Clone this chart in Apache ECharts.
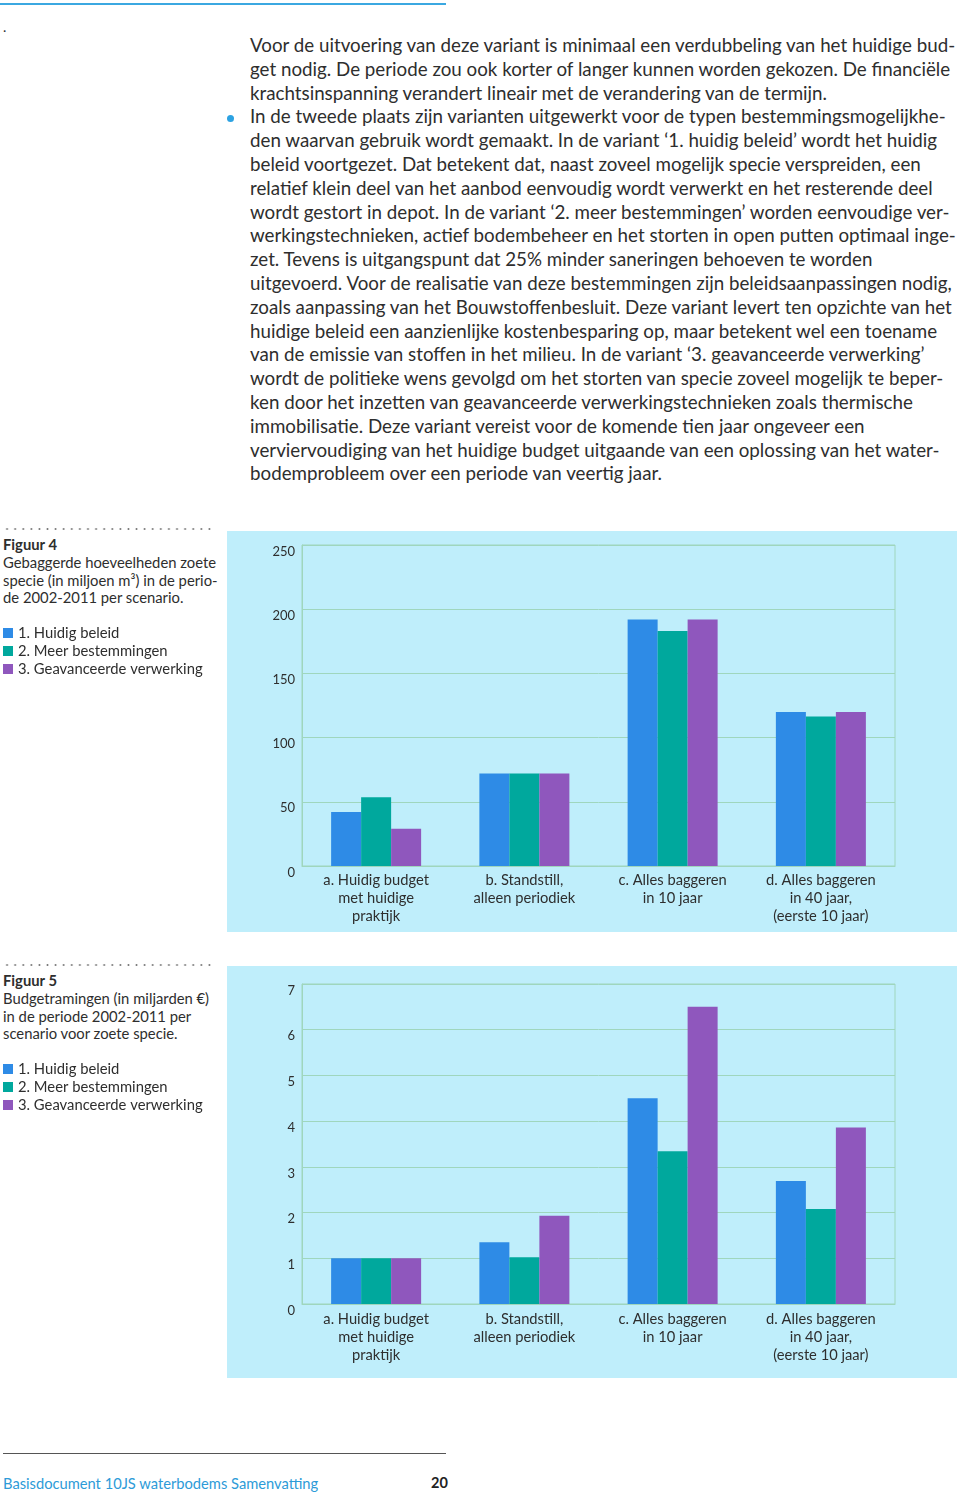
<!DOCTYPE html>
<html>
<head>
<meta charset="utf-8">
<script src="https://cdn.jsdelivr.net/npm/echarts@6/dist/echarts.min.js"></script>
<style>
  html, body { margin:0; padding:0; background:#fff; }
  body { width:960px; height:1493px; position:relative; overflow:hidden; font-family: Lato, "Open Sans", sans-serif; color:#2e2e2e; }
  .abs { position:absolute; }
  #para { left:250px; top:33px; line-height:23.8px; font-size:17px; }
  #para div { white-space:pre; }
  .cap { left:3px; font-size:14.8px; line-height:17.8px; }
  .dots { left:3px; width:212px; height:2px;
          background: radial-gradient(circle, #7a7a7a 0.9px, transparent 1.1px) 0 0 / 8.1px 2px repeat-x; }
  .box { left:227px; width:730px; background:#bfeefb; }
  .chart { left:0; width:960px; }
</style>
</head>
<body>
<div class="abs" style="left:0;top:3px;width:446px;height:2px;background:#3ba8e1;"></div>
<div class="abs" style="left:3px;top:18px;font-size:14px;">.</div>
<div class="abs" style="left:227px;top:115px;width:7px;height:7px;border-radius:4px;background:#2ca2e2;"></div>
<div id="para" class="abs"></div>

<div class="abs dots" style="top:528px;"></div>
<div class="abs cap" style="top:536px;"><b>Figuur 4</b><br>Gebaggerde hoeveelheden zoete<br>specie (in miljoen m³) in de perio-<br>de 2002-2011 per scenario.</div>
<div class="abs box" style="top:531px;height:401px;"></div>
<div id="fig4" class="abs chart" style="top:520px;height:420px;"></div>

<div class="abs dots" style="top:964px;"></div>
<div class="abs cap" style="top:972px;"><b>Figuur 5</b><br>Budgetramingen (in miljarden €)<br>in de periode 2002-2011 per<br>scenario voor zoete specie.</div>
<div class="abs box" style="top:966px;height:412px;"></div>
<div id="fig5" class="abs chart" style="top:955px;height:430px;"></div>

<div class="abs" style="left:3px;top:1453px;width:443px;height:1px;background:#555;"></div>
<div class="abs" style="left:3px;top:1474px;font-size:14.7px;color:#2d9bd8;">Basisdocument 10JS waterbodems Samenvatting</div>
<div class="abs" style="left:431px;top:1474px;font-size:14.5px;font-weight:bold;color:#222;">20</div>

<script>
// ---------- text ----------
const paragraphLines = [
  'Voor de uitvoering van deze variant is minimaal een verdubbeling van het huidige bud-',
  'get nodig. De periode zou ook korter of langer kunnen worden gekozen. De financiële',
  'krachtsinspanning verandert lineair met de verandering van de termijn.',
  'In de tweede plaats zijn varianten uitgewerkt voor de typen bestemmingsmogelijkhe-',
  'den waarvan gebruik wordt gemaakt. In de variant ‘1. huidig beleid’ wordt het huidig',
  'beleid voortgezet. Dat betekent dat, naast zoveel mogelijk specie verspreiden, een',
  'relatief klein deel van het aanbod eenvoudig wordt verwerkt en het resterende deel',
  'wordt gestort in depot. In de variant ‘2. meer bestemmingen’ worden eenvoudige ver-',
  'werkingstechnieken, actief bodembeheer en het storten in open putten optimaal inge-',
  'zet. Tevens is uitgangspunt dat 25% minder saneringen behoeven te worden',
  'uitgevoerd. Voor de realisatie van deze bestemmingen zijn beleidsaanpassingen nodig,',
  'zoals aanpassing van het Bouwstoffenbesluit. Deze variant levert ten opzichte van het',
  'huidige beleid een aanzienlijke kostenbesparing op, maar betekent wel een toename',
  'van de emissie van stoffen in het milieu. In de variant ‘3. geavanceerde verwerking’',
  'wordt de politieke wens gevolgd om het storten van specie zoveel mogelijk te beper-',
  'ken door het inzetten van geavanceerde verwerkingstechnieken zoals thermische',
  'immobilisatie. Deze variant vereist voor de komende tien jaar ongeveer een',
  'verviervoudiging van het huidige budget uitgaande van een oplossing van het water-',
  'bodemprobleem over een periode van veertig jaar.'
];

// ---------- data ----------
const categories = [
  'a. Huidig budget\nmet huidige\npraktijk',
  'b. Standstill,\nalleen periodiek',
  'c. Alles baggeren\nin 10 jaar',
  'd. Alles baggeren\nin 40 jaar,\n(eerste 10 jaar)'
];
const seriesNames = ['1. Huidig beleid', '2. Meer bestemmingen', '3. Geavanceerde verwerking'];

// Figuur 4: gebaggerde hoeveelheden (miljoen m3)
const fig4Huidig = [42, 72, 192, 120];
const fig4Meer   = [53.5, 72, 183, 116.5];
const fig4Geav   = [29, 72, 192, 120];
const fig4AxisMax = 250;
const fig4AxisStep = 50;

// Figuur 5: budgetramingen (miljarden euro)
const fig5Huidig = [1.0, 1.35, 4.5, 2.69];
const fig5Meer   = [1.0, 1.02, 3.34, 2.08];
const fig5Geav   = [1.0, 1.93, 6.5, 3.86];
const fig5AxisMax = 7;
const fig5AxisStep = 1;

const seriesColors = ['#2e8be6', '#00a89d', '#8f57bd'];
const GRID = '#9fd6bd';
const FONT = 'Lato, "Open Sans", sans-serif';

// ---------- paragraph ----------
(function () {
  const para = document.getElementById('para');
  paragraphLines.forEach(t => {
    const d = document.createElement('div');
    d.textContent = t;
    para.appendChild(d);
  });
  const first = para.firstChild;
  const span = document.createElement('span');
  span.textContent = paragraphLines[0];
  first.textContent = '';
  first.appendChild(span);
  const w = span.getBoundingClientRect().width;
  const fs = 17 * 705 / w;
  para.style.fontSize = fs.toFixed(2) + 'px';
})();

// ---------- charts ----------
function makeOption(values, max, step, legendTop, grid, labelMargin) {
  return {
    animation: false,
    textStyle: { fontFamily: FONT },
    legend: {
      orient: 'vertical', left: 3, top: legendTop, padding: 0,
      itemWidth: 10, itemHeight: 10, itemGap: 0, icon: 'rect',
      textStyle: { fontSize: 14.8, lineHeight: 18, color: '#2e2e2e', fontFamily: FONT },
      data: seriesNames
    },
    grid: Object.assign({ show: true, borderColor: GRID, borderWidth: 1, backgroundColor: 'transparent' }, grid),
    xAxis: {
      type: 'category', data: categories,
      axisLine: { show: true, lineStyle: { color: GRID, width: 1 } },
      axisTick: { show: false },
      axisLabel: { interval: 0, margin: labelMargin, fontSize: 14.7, lineHeight: 18, color: '#2e2e2e', fontFamily: FONT }
    },
    yAxis: {
      type: 'value', min: 0, max: max, interval: step,
      axisLine: { show: true, lineStyle: { color: GRID } },
      axisTick: { show: false },
      splitLine: { show: true, lineStyle: { color: GRID, width: 1 } },
      axisLabel: { margin: 7, fontSize: 13, lineHeight: 13, verticalAlign: 'top', color: '#2e2e2e', fontFamily: FONT }
    },
    series: values.map((v, i) => ({
      name: seriesNames[i], type: 'bar', data: v,
      barWidth: 30, barGap: '0%',
      itemStyle: { color: seriesColors[i] }
    }))
  };
}

const c4 = echarts.init(document.getElementById('fig4'), null, { renderer: 'canvas' });
c4.setOption(makeOption([fig4Huidig, fig4Meer, fig4Geav], fig4AxisMax, fig4AxisStep, 104,
  { left: 302, right: 65, top: 25, bottom: 74 }, 5));

const c5 = echarts.init(document.getElementById('fig5'), null, { renderer: 'canvas' });
c5.setOption(makeOption([fig5Huidig, fig5Meer, fig5Geav], fig5AxisMax, fig5AxisStep, 105,
  { left: 302, right: 65, top: 29, bottom: 81 }, 6));
</script>
</body>
</html>
